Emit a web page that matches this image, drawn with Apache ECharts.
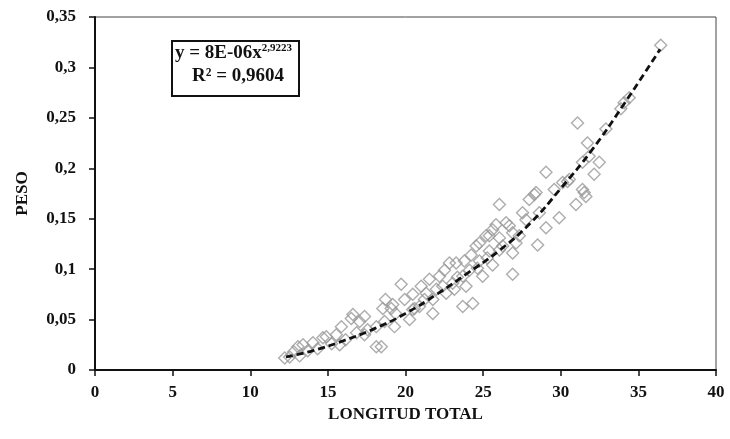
<!DOCTYPE html>
<html>
<head>
<meta charset="utf-8">
<script src="https://cdn.jsdelivr.net/npm/echarts@6/dist/echarts.min.js"></script>
<style>
html,body{margin:0;padding:0;background:#fff;}
#chart{width:730px;height:439px;}
</style>
</head>
<body>
<div id="chart"></div>
<script>
// Observed points (LONGITUD TOTAL, PESO)
var longitud = [12.22,12.54,13.07,13.40,14.04,14.68,14.90,15.54,15.87,16.51,16.61,17.04,17.36,18.12,18.44,18.12,18.54,18.65,19.08,19.29,19.72,20.47,20.26,20.58,12.80,13.18,13.70,14.34,15.24,16.14,16.85,17.56,15.76,
21.01,21.33,22.19,22.40,22.83,23.26,23.79,23.69,21.76,20.90,21.54,22.62,23.04,23.69,23.90,24.23,24.55,25.19,25.61,25.83,26.48,26.90,27.12,27.54,27.76,26.90,24.76,25.40,26.05,24.33,21.76,19.18,20.47,24.97,25.61,26.05,26.69,27.33,26.26,26.90,25.40,24.76,28.62,29.05,28.51,29.90,28.30,29.05,30.12,30.55,31.40,31.62,30.98,30.44,31.51,28.41,31.08,31.72,31.83,32.48,31.40,32.91,33.87,34.41,36.44,34.08,19.94,21.22,21.99,23.34,24.12,24.63,25.27,23.15,22.51,26.05,27.97,29.58,32.15,17.36,19.36,18.71];
var peso = [0.012,0.013,0.023,0.025,0.027,0.032,0.033,0.035,0.043,0.051,0.055,0.048,0.053,0.023,0.023,0.043,0.061,0.048,0.061,0.043,0.085,0.075,0.050,0.061,0.018,0.014,0.019,0.021,0.026,0.030,0.037,0.040,0.025,
0.083,0.076,0.093,0.083,0.106,0.106,0.108,0.063,0.056,0.063,0.090,0.076,0.086,0.093,0.083,0.114,0.123,0.133,0.139,0.144,0.146,0.136,0.126,0.156,0.149,0.095,0.108,0.118,0.119,0.066,0.070,0.065,0.060,0.093,0.104,0.164,0.143,0.133,0.123,0.116,0.133,0.126,0.156,0.141,0.124,0.151,0.174,0.196,0.186,0.189,0.179,0.172,0.164,0.187,0.176,0.176,0.245,0.225,0.212,0.206,0.206,0.239,0.259,0.270,0.322,0.265,0.070,0.070,0.080,0.092,0.099,0.101,0.111,0.080,0.099,0.131,0.169,0.179,0.194,0.035,0.056,0.070];

// Trend line (power fit)
var trendX = [12.3,14,16,18,20,22,24,26,28,30,32,34,36.4];
var trendY = [0.013,0.019,0.029,0.041,0.056,0.075,0.096,0.118,0.145,0.180,0.218,0.262,0.318];

var eqLine1 = 'y = 8E-06x';
var eqExp = '2,9223';
var eqLine2 = 'R² = 0,9604';

var n = Math.min(longitud.length, peso.length);
var points = [];
for (var i = 0; i < n; i++) points.push([longitud[i], peso[i]]);
var trend = trendX.map(function(x, i){ return [x, trendY[i]]; });

var FONT = '"Liberation Serif","Times New Roman",serif';
function fmt(v){ return String(+(+v).toFixed(2)).replace('.', ','); }

var chart = echarts.init(document.getElementById('chart'), null, {renderer:'canvas'});
chart.setOption({
  animation: false,
  backgroundColor: '#fff',
  grid: {left: 95, right: 14, top: 17, bottom: 69, show: true, borderColor: '#444', borderWidth: 1, backgroundColor: 'transparent'},
  xAxis: {
    type: 'value', min: 0, max: 40, interval: 5,
    name: 'LONGITUD TOTAL', nameLocation: 'middle', nameGap: 30,
    nameTextStyle: {color: '#111', fontFamily: FONT, fontWeight: 'bold', fontSize: 17},
    axisLine: {show: true, onZero: false, lineStyle: {color: '#111', width: 2}},
    axisTick: {show: true, inside: false, length: 6, lineStyle: {color: '#111', width: 1.5}},
    axisLabel: {color: '#111', fontFamily: FONT, fontWeight: 'bold', fontSize: 17, margin: 14, formatter: fmt},
    splitLine: {show: false}
  },
  yAxis: {
    type: 'value', min: 0, max: 0.35, interval: 0.05,
    name: 'PESO', nameLocation: 'middle', nameGap: 64, nameRotate: 90,
    nameTextStyle: {color: '#111', fontFamily: FONT, fontWeight: 'bold', fontSize: 17},
    axisLine: {show: true, onZero: false, lineStyle: {color: '#111', width: 2}},
    axisTick: {show: true, inside: false, length: 6, lineStyle: {color: '#111', width: 1.5}},
    axisLabel: {color: '#111', fontFamily: FONT, fontWeight: 'bold', fontSize: 17, margin: 19, formatter: fmt},
    splitLine: {show: false}
  },
  series: [
    {
      type: 'scatter', data: points, symbol: 'diamond', symbolSize: 12,
      itemStyle: {color: 'rgba(255,255,255,0)', borderColor: '#999', borderWidth: 1.4},
      z: 2
    },
    {
      type: 'line', data: trend, smooth: true, symbol: 'none',
      lineStyle: {color: '#111', width: 2.8, type: [7, 4]},
      z: 3
    }
  ],
  graphic: [
    {type: 'rect', left: 171, top: 40, shape: {width: 127, height: 55}, style: {fill: '#fff', stroke: '#111', lineWidth: 2}, z: 10},
    {type: 'text', left: 175, top: 43, z: 11,
      style: {text: '{a|' + eqLine1 + '}{b|' + eqExp + '}', rich: {
        a: {fontFamily: FONT, fontWeight: 'bold', fontSize: 19, fill: '#111', lineHeight: 21},
        b: {fontFamily: FONT, fontWeight: 'bold', fontSize: 11, fill: '#111', verticalAlign: 'top', lineHeight: 21, padding: [0,0,10,0]}
      }}},
    {type: 'text', left: 192, top: 67, z: 11,
      style: {text: eqLine2, fontFamily: FONT, fontWeight: 'bold', fontSize: 19, fill: '#111'}}
  ]
});
</script>
</body>
</html>
